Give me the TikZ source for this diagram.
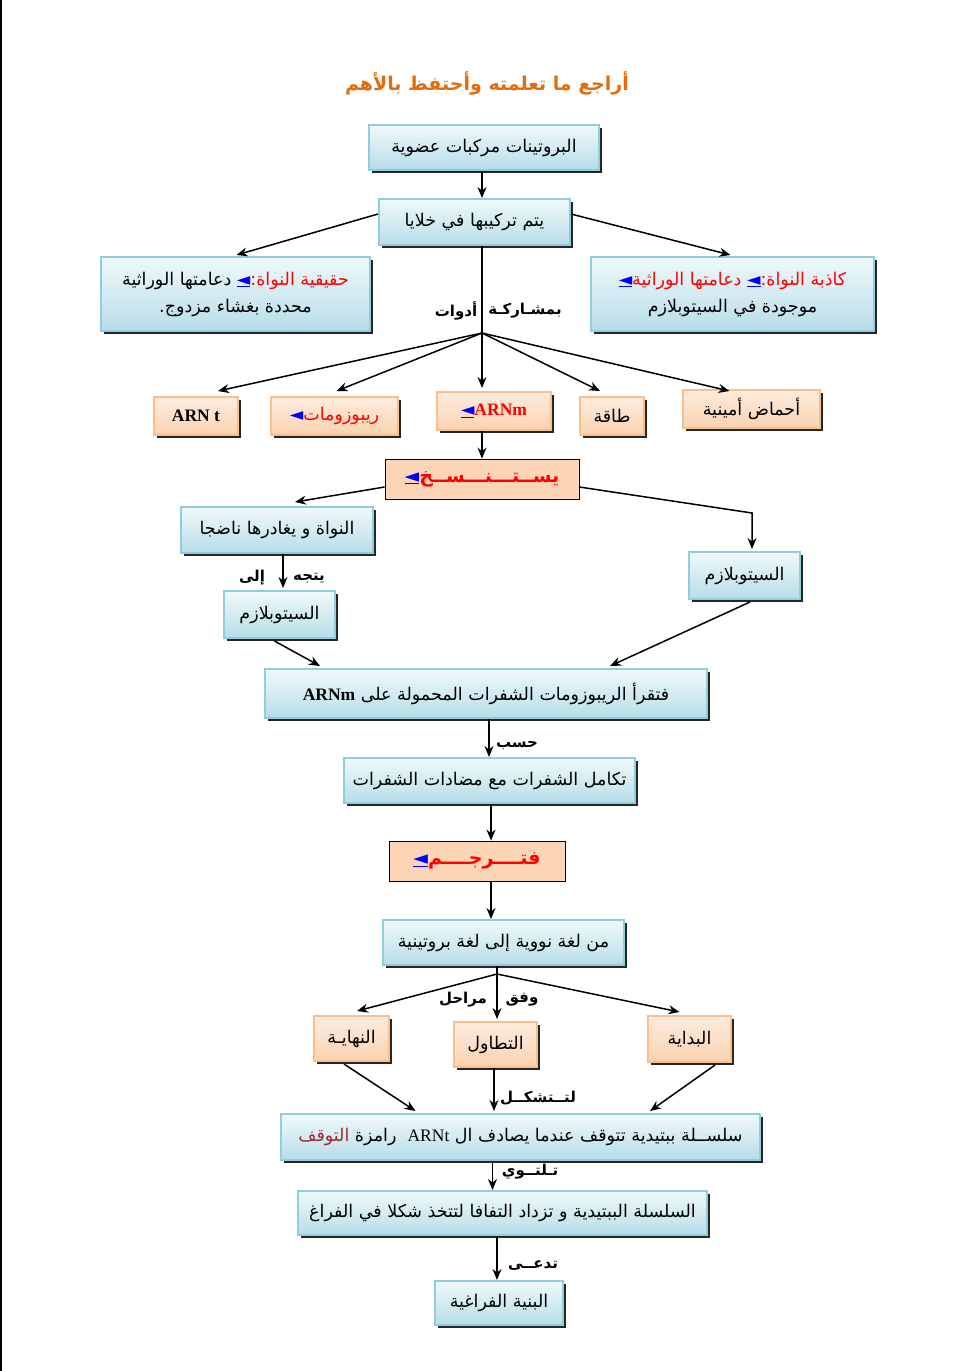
\documentclass[tikz,border=0pt]{standalone}
\usepackage{fontspec}
\usetikzlibrary{arrows.meta,shadows}
\TeXXeTstate=1
\newfontfamily\ar[Script=Arabic]{DejaVu Sans}
\newfontfamily\lat{Liberation Serif}
\definecolor{bborder}{RGB}{146,205,220}
\definecolor{btop}{RGB}{240,249,251}
\definecolor{bbot}{RGB}{183,221,232}
\definecolor{ptop}{RGB}{253,236,222}
\definecolor{pbot}{RGB}{251,210,176}
\definecolor{pborder}{RGB}{250,191,143}
\definecolor{pfill}{RGB}{251,213,181}
\definecolor{ttl}{RGB}{228,108,10}
\definecolor{darkred}{RGB}{160,45,45}
\newcommand{\barr}{{\color{blue}\underline{◄}}}
\newcommand{\parr}{{\color{blue}◄}}
\tikzset{
  shd/.style={drop shadow={shadow xshift=3pt,shadow yshift=-3pt,fill=black!85,opacity=1}},
  bbox/.style={shd,draw=bborder,line width=2pt,top color=btop,bottom color=bbot,
    font=\ar\fontsize{17.5}{27}\selectfont,align=center,inner sep=2pt},
  pbox/.style={shd,draw=pborder,line width=2pt,top color=ptop,bottom color=pbot,
    font=\ar\fontsize{17.5}{22}\selectfont,align=center,inner sep=2pt},
  vbox/.style={draw=black,line width=0.8pt,fill=pfill,
    font=\ar\bfseries\fontsize{19}{22}\selectfont,inner sep=2pt},
  arr/.style={-{Stealth[length=11pt,width=9pt]},line width=1.5pt},
  ln/.style={line width=1.5pt},
  lbl/.style={font=\ar\bfseries\fontsize{15}{17}\selectfont,inner sep=0pt},
}
\begin{document}
\begin{tikzpicture}[x=1pt,y=-1pt]
\useasboundingbox (0,0) rectangle (968,1371);
\fill[white] (0,0) rectangle (968,1371);
\draw[line width=1.5pt] (0.75,0) -- (0.75,1371);

\node[font=\ar\bfseries\fontsize{19}{22}\selectfont,text=ttl] (title) at (487,83) {\beginR أراجع ما تعلمته وأحتفظ بالأهم\endR};

\node[bbox,minimum width=230,minimum height=45] (A) at (484,147.5) {\beginR البروتينات مركبات عضوية\endR};
\node[bbox,minimum width=191,minimum height=46] (B) at (474.5,222) {\beginR يتم تركيبها في خلايا\endR};
% coloured runs: each run is its own \beginR...\endR, colour changes kept outside the reversed runs
\node[bbox,minimum width=269,minimum height=74] (C) at (235.5,294)
  {{\beginR دعامتها الوراثية\endR} \barr{\color{red}\beginR حقيقية النواة:\endR}\\\beginR محددة بغشاء مزدوج.\endR};
\node[bbox,minimum width=283,minimum height=74] (D) at (732.5,294)
  {\barr{\color{red}\beginR دعامتها الوراثية\endR} \barr{\color{red}\beginR كاذبة النواة:\endR}\\\beginR موجودة في السيتوبلازم\endR};
\coordinate (hub1) at (482,333);

\node[pbox,minimum width=84,minimum height=38] (tRNA) at (196,416) {{\lat\bfseries ARN t}};
\node[pbox,minimum width=127,minimum height=38] (ribo) at (334.5,416) {\parr{\color{red}\beginR ريبوزومات\endR}};
\node[pbox,minimum width=114,minimum height=38] (mRNA) at (494,411) {\barr{\color{red}\lat\bfseries ARNm}};
\node[pbox,minimum width=64,minimum height=38] (nrg) at (612,416) {\beginR طاقة\endR};
\node[pbox,minimum width=137,minimum height=38] (amino) at (751.5,409) {\beginR أحماض أمينية\endR};

\node[vbox,minimum width=194,minimum height=40] (E) at (482,479) {\barr{\color{red}\beginR يســتـــنـــســخ\endR}};
\node[bbox,minimum width=192,minimum height=46] (F) at (277,530) {\beginR النواة و يغادرها ناضجا\endR};
\node[bbox,minimum width=111,minimum height=47] (G) at (744.5,575.5) {\beginR السيتوبلازم\endR};
\node[bbox,minimum width=111,minimum height=47] (H) at (279.5,614.5) {\beginR السيتوبلازم\endR};
\node[bbox,minimum width=442,minimum height=49] (I) at (486,693.5) {\beginR فتقرأ الريبوزومات الشفرات المحمولة على \beginL{\lat\bfseries ARNm}\endL\endR};
\node[bbox,minimum width=291,minimum height=45] (J) at (489.5,780.5) {\beginR تكامل الشفرات مع مضادات الشفرات\endR};
\node[vbox,minimum width=176,minimum height=40] (K) at (477,861) {\barr{\color{red}\beginR فتــــرجــــم\endR}};
\node[bbox,minimum width=241,minimum height=45] (L) at (503.5,942.5) {\beginR من لغة نووية إلى لغة بروتينية\endR};
\coordinate (hub2) at (497,974);
\node[pbox,minimum width=75,minimum height=45] (end) at (351.5,1038.5) {\beginR النهايـة\endR};
\node[pbox,minimum width=83,minimum height=45] (elong) at (495.5,1044.5) {\beginR التطاول\endR};
\node[pbox,minimum width=83,minimum height=46] (start) at (689.5,1039) {\beginR البداية\endR};
\node[bbox,minimum width=479,minimum height=46] (M) at (520.5,1137)
  {{\color{darkred}\beginR التوقف\endR} {\beginR رامزة\endR}\ \ {\lat ARNt} {\beginR سلســلة ببتيدية تتوقف عندما يصادف ال\endR}};
\node[bbox,minimum width=409,minimum height=44] (N) at (502.5,1213) {\beginR السلسلة الببتيدية و تزداد التفافا لتتخذ شكلا في الفراغ\endR};
\node[bbox,minimum width=128,minimum height=44] (O) at (499,1303) {\beginR البنية الفراغية\endR};

% labels
\node[lbl] (l1a) at (525,311) {\beginR بمشـاركـة\endR};
\node[lbl] (l1b) at (456,311) {\beginR أدوات\endR};
\node[lbl] (l2a) at (309,578) {\beginR يتجه\endR};
\node[lbl] (l2b) at (252,578) {\beginR إلى\endR};
\node[lbl] (l3) at (517,746) {\beginR حسب\endR};
\node[lbl] (l4a) at (522,1000) {\beginR وفق\endR};
\node[lbl] (l4b) at (463,1000) {\beginR مراحل\endR};
\node[lbl] (l5) at (538,1098) {\beginR لتــتشكــل\endR};
\node[lbl] (l6) at (530,1172) {\beginR تـلتــوي\endR};
\node[lbl] (l7) at (533,1266) {\beginR تدعــى\endR};

% connectors
\draw[arr] ([xshift=-2pt]A.south) -- ([xshift=7.5pt]B.north);
\draw[arr] ([yshift=8pt]B.west) -- ([xshift=1pt,yshift=1pt]C.north);
\draw[arr] ([yshift=8pt]B.east) -- ([xshift=-2pt,yshift=1pt]D.north);
\draw[ln] ([xshift=7.5pt]B.south) -- (hub1);
\draw[arr] (hub1) -- ([xshift=22pt,yshift=5pt]tRNA.north);
\draw[arr] (hub1) -- ([xshift=2pt,yshift=5pt]ribo.north);
\draw[arr] (hub1) -- ([xshift=-12pt,yshift=3pt]mRNA.north);
\draw[arr] (hub1) -- ([xshift=-12pt,yshift=5pt]nrg.north);
\draw[arr] (hub1) -- ([xshift=-22pt,yshift=-2pt]amino.north);
\draw[arr] (mRNA.south -| hub1) -- (E.north);
\draw[arr] ([yshift=-8pt]E.west) -- ([xshift=18pt,yshift=4pt]F.north);
\coordinate (cG) at (752,513);
\draw[arr] ([yshift=-8pt]E.east) -- (cG) -- ([xshift=7.5pt,yshift=2pt]G.north);
\draw[arr] ([xshift=6pt]F.south) -- ([xshift=3.5pt,yshift=2pt]H.north);
\draw[arr] ([xshift=-5pt,yshift=-2pt]H.south) -- ([xshift=-166pt,yshift=2pt]I.north);
\draw[arr] ([xshift=5.5pt,yshift=-2pt]G.south) -- ([xshift=124pt,yshift=2pt]I.north);
\draw[arr] ([xshift=3pt]I.south) -- ([xshift=-0.5pt]J.north);
\draw[arr] ([xshift=1.5pt]J.south) -- ([xshift=14pt]K.north);
\draw[arr] ([xshift=14pt]K.south) -- ([xshift=-12.5pt]L.north);
\draw[ln] ([xshift=-6.5pt]L.south) -- (hub2);
\draw[arr] (hub2) -- ([xshift=5.5pt,yshift=4pt]end.north);
\draw[arr] (hub2) -- ([xshift=1.5pt,yshift=2pt]elong.north);
\draw[arr] (hub2) -- ([xshift=-10pt,yshift=3pt]start.north);
\draw[arr] ([xshift=-7.5pt,yshift=-2pt]end.south) -- ([xshift=-105pt,yshift=2pt]M.north);
\draw[arr] ([xshift=-1.5pt]elong.south) -- ([xshift=-26.5pt,yshift=2pt]M.north);
\draw[arr] ([xshift=25.5pt,yshift=-2pt]start.south) -- ([xshift=129.5pt,yshift=2pt]M.north);
\draw[arr] ([xshift=-28pt]M.south) -- ([xshift=-10pt]N.north);
\draw[arr] ([xshift=-5.5pt]N.south) -- ([xshift=-2pt]O.north);
\end{tikzpicture}
\end{document}
